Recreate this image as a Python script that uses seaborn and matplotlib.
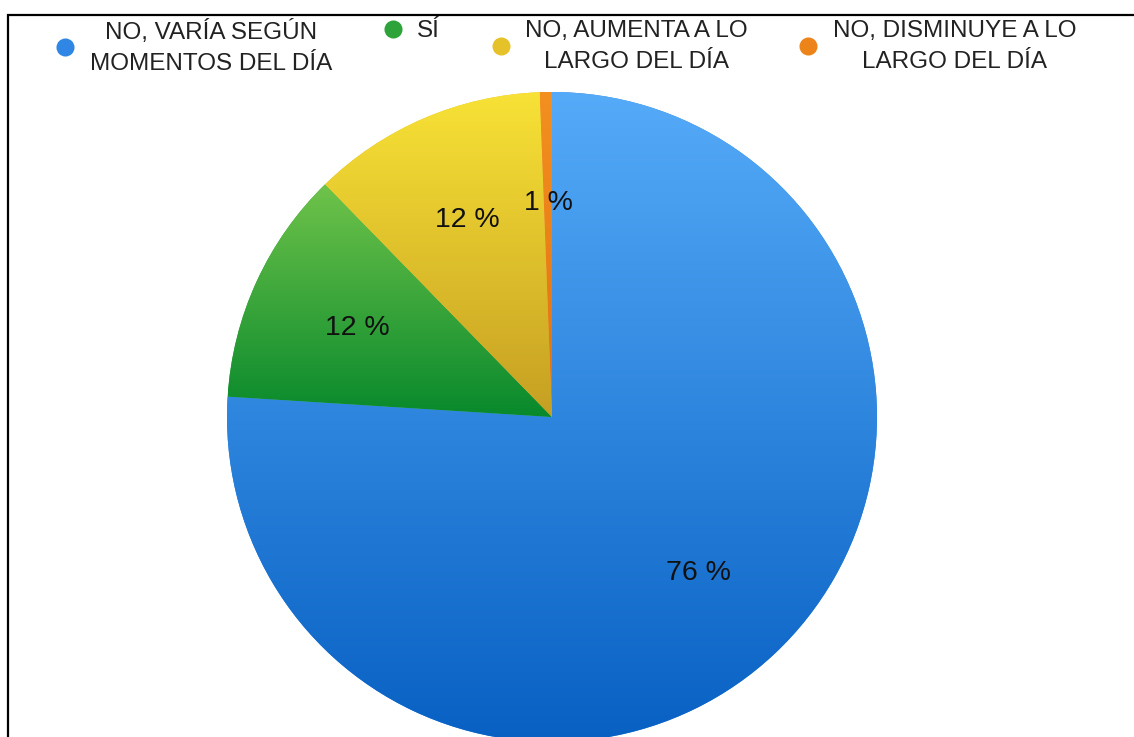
import numpy as np
import matplotlib
matplotlib.use("Agg")
import matplotlib.pyplot as plt
from matplotlib.lines import Line2D
from matplotlib.colors import to_rgb
import seaborn as sns

# Survey answers and their shares (%)
categories = [
    "NO, VARÍA SEGÚN\nMOMENTOS DEL DÍA",
    "SÍ",
    "NO, AUMENTA A LO\nLARGO DEL DÍA",
    "NO, DISMINUYE A LO\nLARGO DEL DÍA",
]
shares = [76.0, 11.7, 11.7, 0.6]

# Top / bottom colours of each slice's vertical gradient
top_colors = ["#55abf8", "#6fc34a", "#f8e236", "#f39020"]
bottom_colors = ["#0860c3", "#08892c", "#c69f22", "#e07012"]
marker_colors = ["#2f86e4", "#2ea33a", "#e6c22a", "#ec8419"]

sns.set_theme(style="white")
plt.rcParams["font.family"] = ["Liberation Sans", "DejaVu Sans"]

W, H = 1134, 737
fig = plt.figure(figsize=(W / 100, H / 100), dpi=100)
ax = fig.add_axes([0, 0, 1, 1])

cx, cy, R = 552, H - 417, 325
wedges, texts, autotexts = ax.pie(
    shares,
    startangle=90,
    counterclock=False,
    center=(cx, cy),
    radius=R,
    colors=marker_colors,
    autopct="%.0f %%",
    pctdistance=0.66,
    wedgeprops=dict(linewidth=0),
    textprops=dict(fontsize=20.5, color="#111111"),
)

# Vertical gradient inside every wedge
for w, ct, cb in zip(wedges, top_colors, bottom_colors):
    ext = w.get_path().get_extents()
    t = np.linspace(0, 1, 256)[:, None]
    img = (1 - t) * np.array(to_rgb(ct)) + t * np.array(to_rgb(cb))
    img = img[:, None, :]
    im = ax.imshow(img, extent=[ext.x0, ext.x1, ext.y0, ext.y1],
                   origin="upper", aspect="auto", interpolation="bilinear",
                   zorder=1.5)
    im.set_clip_path(w)

for t_ in autotexts:
    t_.set_zorder(4)

ax.set_xlim(0, W)
ax.set_ylim(0, H)
ax.set_aspect("equal")
ax.axis("off")

# Frame lines (top and left)
ax.plot([8, 8, W], [0, H - 15, H - 15], color="black", lw=1.6,
        clip_on=False, solid_joinstyle="miter", zorder=5)

handles = [Line2D([0], [0], marker="o", linestyle="none", markersize=13,
                  markerfacecolor=c, markeredgewidth=0) for c in marker_colors]
leg = ax.legend(handles, categories, ncol=4, frameon=False,
                loc="upper center", bbox_to_anchor=(566 / W, 1 - 8 / H),
                bbox_transform=fig.transFigure, fontsize=17.5,
                handlelength=0.8, handletextpad=0.6, columnspacing=2.1,
                borderpad=0, labelcolor="#222222")
for t_ in leg.get_texts():
    t_.set_multialignment("center")
    t_.set_linespacing(1.5)
# entries sit at the top of the legend row
leg._legend_handle_box.align = "top"

fig.savefig("out.png", dpi=100)
